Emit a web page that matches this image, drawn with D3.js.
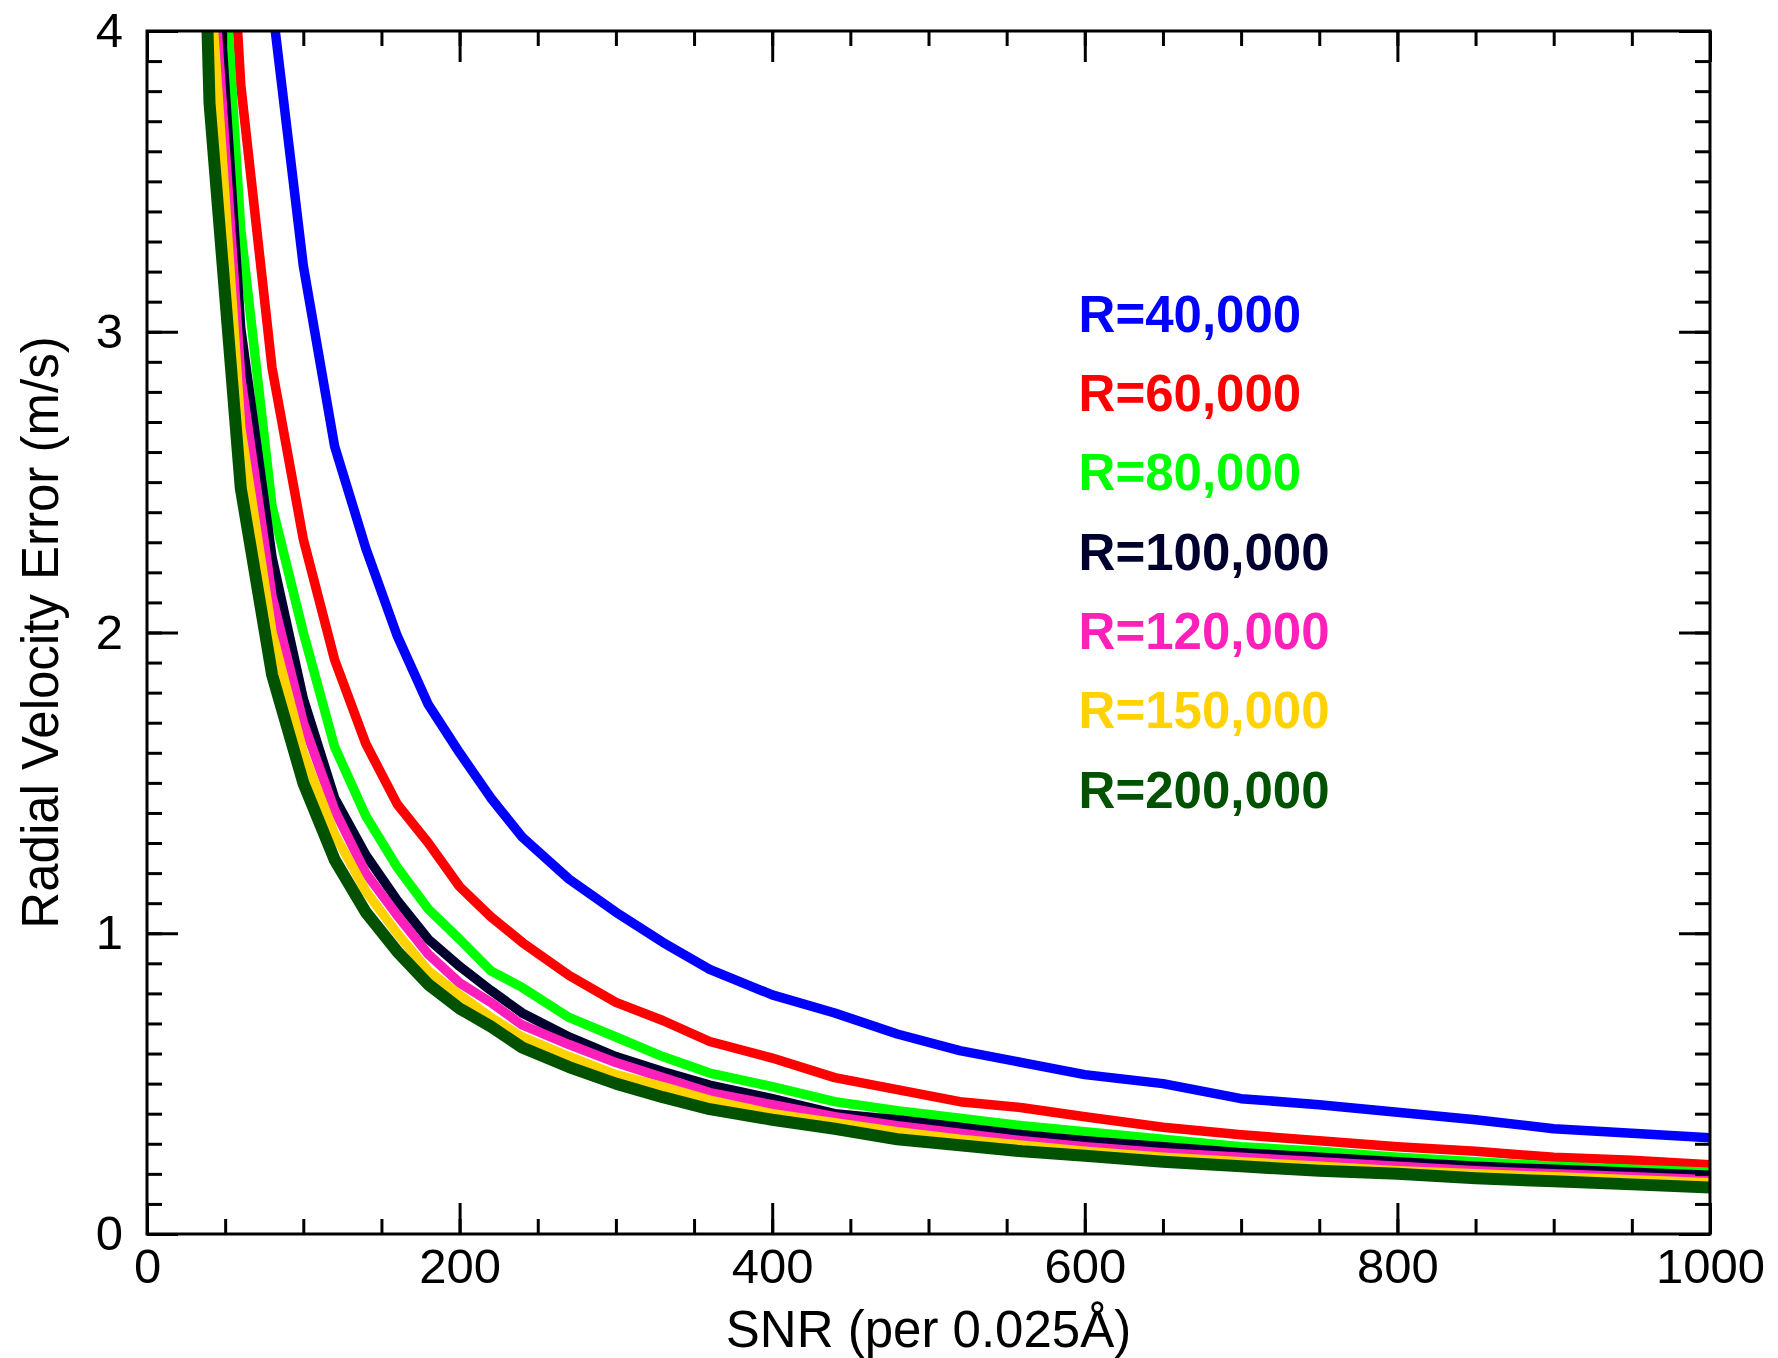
<!DOCTYPE html>
<html>
<head>
<meta charset="utf-8">
<script src="https://cdn.jsdelivr.net/npm/d3@7"></script>
<style>
  body { margin: 0; background: #fff; }
  svg { display: block; font-family: "Liberation Sans", Arial, Helvetica, sans-serif; }
</style>
</head>
<body>
<svg id="chart" width="1778" height="1358"></svg>
<script>
// SNR grid shared by all curves
const snr = [20, 40, 60, 80, 100, 120, 140, 160, 180, 200, 220, 240, 270, 300, 330, 360,
  400, 440, 480, 520, 560, 600, 650, 700, 750, 800, 850, 900, 950, 1000];

// radial velocity error (m/s)
const r40k = [16, 8.2, 5.4, 4.09, 3.22, 2.62, 2.28, 1.99, 1.76, 1.60, 1.45, 1.32, 1.18, 1.07, 0.97, 0.88,
  0.795, 0.735, 0.665, 0.61, 0.57, 0.53, 0.50, 0.45, 0.43, 0.405, 0.38, 0.35, 0.335, 0.32];
const r60k = [11.5, 5.62, 3.82, 2.88, 2.31, 1.91, 1.63, 1.43, 1.30, 1.155, 1.055, 0.97, 0.86, 0.77, 0.71, 0.64,
  0.585, 0.52, 0.48, 0.44, 0.42, 0.39, 0.355, 0.33, 0.31, 0.29, 0.275, 0.255, 0.245, 0.23];
const r80k = [10, 5.0, 3.34, 2.42, 2.0, 1.62, 1.39, 1.22, 1.08, 0.98, 0.875, 0.82, 0.72, 0.655, 0.59, 0.535,
  0.49, 0.44, 0.41, 0.385, 0.36, 0.34, 0.315, 0.29, 0.275, 0.255, 0.24, 0.225, 0.215, 0.205];
const r100k = [9, 4.6, 3.01, 2.25, 1.78, 1.45, 1.26, 1.11, 0.98, 0.89, 0.81, 0.735, 0.655, 0.59, 0.54, 0.495,
  0.45, 0.40, 0.38, 0.355, 0.33, 0.31, 0.29, 0.27, 0.255, 0.24, 0.225, 0.215, 0.205, 0.195];
const r120k = [8.5, 4.38, 2.85, 2.12, 1.70, 1.41, 1.20, 1.06, 0.93, 0.835, 0.77, 0.695, 0.63, 0.57, 0.52, 0.47,
  0.43, 0.39, 0.36, 0.335, 0.31, 0.29, 0.27, 0.255, 0.24, 0.225, 0.21, 0.20, 0.19, 0.18];
const r150k = [8, 4.2, 2.68, 2.0, 1.6, 1.33, 1.14, 1.0, 0.875, 0.795, 0.72, 0.655, 0.59, 0.53, 0.49, 0.445,
  0.40, 0.37, 0.34, 0.315, 0.295, 0.275, 0.255, 0.24, 0.225, 0.21, 0.20, 0.19, 0.18, 0.17];
const r200k = [7.5, 3.76, 2.48, 1.86, 1.50, 1.245, 1.07, 0.94, 0.83, 0.75, 0.69, 0.62, 0.555, 0.50, 0.455, 0.415,
  0.38, 0.35, 0.315, 0.295, 0.275, 0.26, 0.24, 0.225, 0.21, 0.20, 0.185, 0.175, 0.165, 0.155];

const labels = ["R=40,000", "R=60,000", "R=80,000", "R=100,000", "R=120,000", "R=150,000", "R=200,000"];
const colors = ["#0000ff", "#ff0000", "#00ff00", "#00002e", "#ff1fbb", "#ffd200", "#005200"];
const seriesVals = [r40k, r60k, r80k, r100k, r120k, r150k, r200k];

const xTicks = [0, 200, 400, 600, 800, 1000];
const yTicks = [0, 1, 2, 3, 4];

const W = 1778, H = 1358;
const margin = {top: 31, right: 68, bottom: 124, left: 147};
const iw = W - margin.left - margin.right;
const ih = H - margin.top - margin.bottom;

const svg = d3.select("#chart");
const g = svg.append("g").attr("transform", `translate(${margin.left},${margin.top})`);

const x = d3.scaleLinear().domain([0, 1000]).range([0, iw]);
const y = d3.scaleLinear().domain([0, 4]).range([ih, 0]);

g.append("clipPath").attr("id", "clip")
  .append("rect").attr("width", iw).attr("height", ih);

// curves
const line = d3.line()
  .x((d, i) => x(snr[i]))
  .y(d => y(d));

g.append("g").attr("clip-path", "url(#clip)")
  .selectAll("path")
  .data(seriesVals)
  .join("path")
  .attr("d", line)
  .attr("fill", "none")
  .attr("stroke", (d, i) => colors[i])
  .attr("stroke-width", (d, i) => i === 6 ? 12 : 9.5)
  .attr("stroke-linejoin", "round");

// axes, ticks on all four sides pointing inward
const minorX = d3.range(0, 1001, 50);
const minorY = d3.range(0, 4.001, 0.1);
const majLen = 31, minLen = 15;

function styleAxis(sel) {
  sel.select(".domain").remove();
  sel.selectAll(".tick line").attr("stroke", "#000").attr("stroke-width", 3);
  sel.selectAll(".tick text").attr("fill", "#000").attr("font-size", 49);
}

g.append("g").attr("transform", `translate(0,${ih})`)
  .call(d3.axisBottom(x).tickValues(minorX).tickSize(-minLen).tickFormat(""))
  .call(styleAxis);
g.append("g").attr("transform", `translate(0,${ih})`)
  .call(d3.axisBottom(x).tickValues(xTicks).tickSize(-majLen).tickPadding(14).tickFormat(d3.format("d")))
  .call(styleAxis);
g.append("g")
  .call(d3.axisTop(x).tickValues(minorX).tickSize(-minLen).tickFormat(""))
  .call(styleAxis);
g.append("g")
  .call(d3.axisTop(x).tickValues(xTicks).tickSize(-majLen).tickFormat(""))
  .call(styleAxis);

g.append("g")
  .call(d3.axisLeft(y).tickValues(minorY).tickSize(-minLen).tickFormat(""))
  .call(styleAxis);
g.append("g")
  .call(d3.axisLeft(y).tickValues(yTicks).tickSize(-majLen).tickPadding(24).tickFormat(d3.format("d")))
  .call(styleAxis);
g.append("g").attr("transform", `translate(${iw},0)`)
  .call(d3.axisRight(y).tickValues(minorY).tickSize(-minLen).tickFormat(""))
  .call(styleAxis);
g.append("g").attr("transform", `translate(${iw},0)`)
  .call(d3.axisRight(y).tickValues(yTicks).tickSize(-majLen).tickFormat(""))
  .call(styleAxis);

// frame
g.append("rect")
  .attr("width", iw).attr("height", ih)
  .attr("fill", "none").attr("stroke", "#000").attr("stroke-width", 3);

// axis titles
svg.append("text")
  .attr("x", margin.left + iw / 2).attr("y", 1347)
  .attr("text-anchor", "middle").attr("font-size", 51)
  .text("SNR (per 0.025Å)");

svg.append("text")
  .attr("transform", `translate(58,${margin.top + ih / 2}) rotate(-90)`)
  .attr("text-anchor", "middle").attr("font-size", 51)
  .text("Radial Velocity Error (m/s)");

// legend
g.append("g").selectAll("text")
  .data(labels)
  .join("text")
  .attr("x", x(596))
  .attr("y", (d, i) => y(3.0) + i * 79.3)
  .attr("fill", (d, i) => colors[i])
  .attr("font-size", 51)
  .attr("font-weight", "bold")
  .text(d => d);
</script>
</body>
</html>
